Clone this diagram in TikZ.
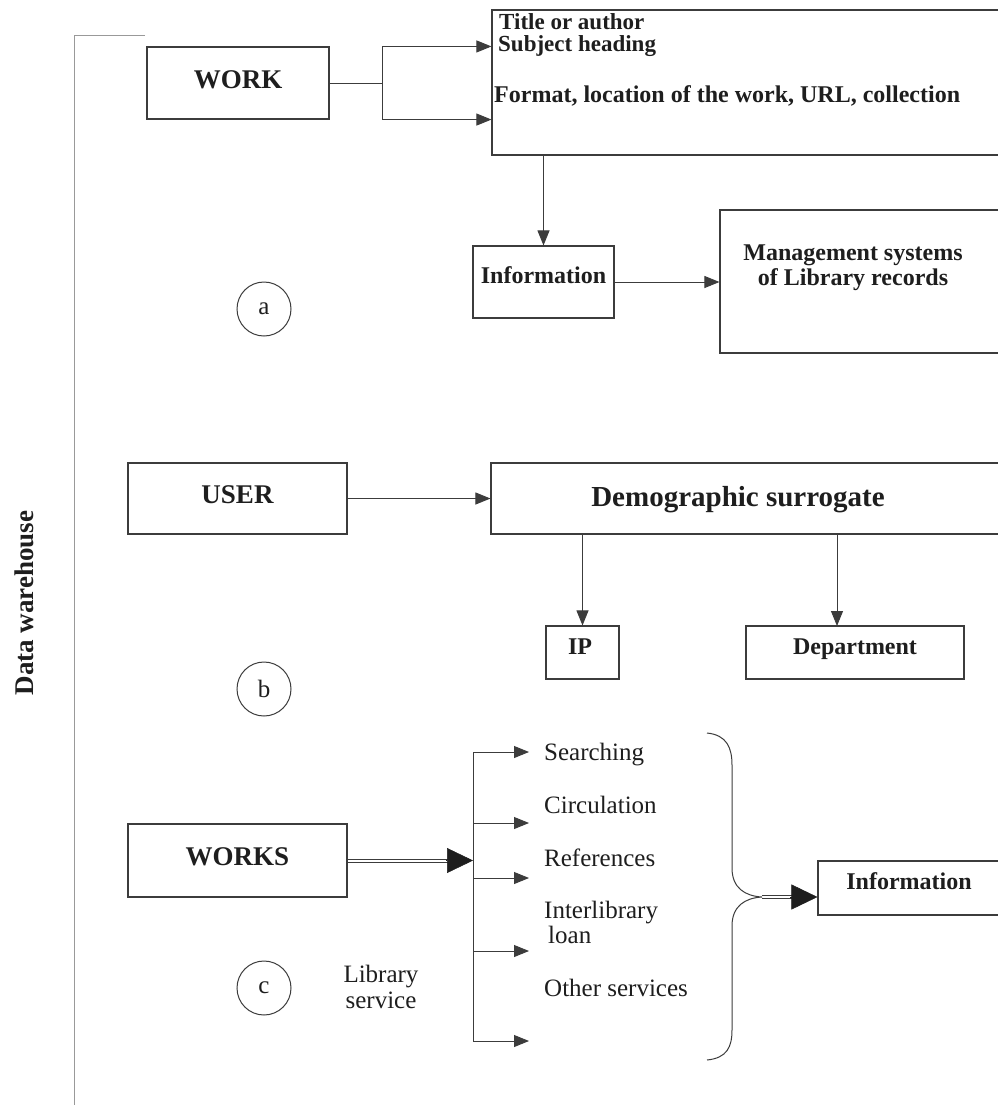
\documentclass[tikz,border=0pt]{standalone}
\usepackage{fontspec}
\setmainfont{Liberation Serif}
\usetikzlibrary{arrows.meta,calc}
\definecolor{ln}{HTML}{3C3C3C}
\definecolor{tx}{HTML}{1E1E1E}
\tikzset{
  box/.style={draw=ln, line width=1.1pt, inner sep=0pt, fill=none},
  arr/.style={draw=ln, line width=0.9pt, -{Triangle[length=15pt,width=12pt]}},
  ln1/.style={draw=ln, line width=0.9pt},
  thin2/.style={draw=ln, line width=0.8pt},
  bigtip/.style={draw=tx, line width=0.5pt, -{Triangle[length=26pt,width=25pt]}},
  lbl/.style={text=tx, inner sep=0pt, font=\fontsize{24}{26}\selectfont\bfseries},
  biglbl/.style={text=tx, inner sep=0pt, font=\fontsize{27}{29}\selectfont\bfseries},
  reg/.style={text=tx, inner sep=0pt, font=\fontsize{25}{27}\selectfont},
  circ/.style={draw=ln, line width=1pt, circle, minimum size=54pt, inner sep=0pt, text=tx, font=\fontsize{25}{27}\selectfont}
}
\begin{document}
\begin{tikzpicture}[x=1pt,y=-1pt]
\clip (0,0) rectangle (998,1112);
\fill[white] (0,0) rectangle (998,1112);

% left frame
\coordinate (ftl) at (74,35);
\coordinate (ftr) at (145,35);
\coordinate (fbl) at (74,1105);
\draw[draw=gray!80, line width=1pt] (ftr) -- (ftl) -- (fbl);
\node[text=tx, inner sep=0pt, rotate=90, anchor=base, font=\fontsize{27}{29}\selectfont\bfseries] (dw) at (34,603) {Data warehouse};

% ---------- (a) ----------
\node[box, minimum width=182pt, minimum height=72pt] (work) at (238,83) {};
\node[biglbl, anchor=base] (workt) at (238,88) {WORK};
\node[box, minimum width=518pt, minimum height=145pt] (attr) at (751,82.5) {};
\node[text=tx, inner sep=0pt, anchor=base west, font=\fontsize{23}{25}\selectfont\bfseries] (t1) at (499,29) {Title or author};
\node[text=tx, inner sep=0pt, anchor=base west, font=\fontsize{23}{25}\selectfont\bfseries] (t2) at (498,51) {Subject heading};
\node[lbl, anchor=base west] (t3) at (494,102) {Format, location of the work, URL, collection};
\coordinate (fork) at (382,83);
\draw[ln1] (work.east) -- (fork);
\draw[ln1] (fork |- work.north) -- (fork |- work.south);
\draw[arr] (fork |- work.north) -- (work.north -| attr.west);
\draw[arr] (fork |- work.south) -- (work.south -| attr.west);

\node[box, minimum width=141pt, minimum height=72pt] (info) at (543.5,282) {};
\node[lbl, anchor=base] (infot) at (543.5,283) {Information};
\node[box, minimum width=290pt, minimum height=143pt] (mgmt) at (865,281.5) {};
\node[lbl, anchor=base] (m1) at (853,260) {Management systems};
\node[lbl, anchor=base] (m2) at (853,285) {of Library records};
\draw[arr] (info.north |- attr.south) -- (info.north);
\draw[arr] (info.east) -- (info.east -| mgmt.west);
\node[circ] (ca) at (264,309) {a};

% ---------- (b) ----------
\node[box, minimum width=219pt, minimum height=71pt] (user) at (237.5,498.5) {};
\node[biglbl, anchor=base] (usert) at (237.5,503) {USER};
\node[box, minimum width=519pt, minimum height=71pt] (demo) at (750.5,498.5) {};
\node[text=tx, inner sep=0pt, anchor=base, font=\fontsize{29}{31}\selectfont\bfseries] (demot) at (738,506) {Demographic surrogate};
\draw[arr] (user.east) -- (demo.west);
\node[box, minimum width=73pt, minimum height=53pt] (ip) at (582.5,652.5) {};
\node[lbl, anchor=base] (ipt) at (580,654) {IP};
\node[box, minimum width=218pt, minimum height=53pt] (dept) at (855,652.5) {};
\node[lbl, anchor=base] (deptt) at (855,654) {Department};
\coordinate (dtop) at (837,626);
\draw[arr] (ip.north |- demo.south) -- (ip.north);
\draw[arr] (dtop |- demo.south) -- (dtop);
\node[circ] (cb) at (264,689) {b};

% ---------- (c) ----------
\node[box, minimum width=219pt, minimum height=73pt] (works) at (237.5,860.5) {};
\node[biglbl, anchor=base] (workst) at (237.5,865) {WORKS};
\coordinate (hub) at (473,860.5);
\coordinate (b1) at (473,752);
\coordinate (b2) at (473,823);
\coordinate (b3) at (473,878);
\coordinate (b4) at (473,951);
\coordinate (b5) at (473,1041);
\draw[ln1] (b1) -- (b5);
\foreach \k in {b1,b2,b3,b4,b5} {\draw[arr] (\k) -- ++(56,0);}
\draw[thin2] ([yshift=1.6pt]works.east) -- ([yshift=1.6pt,xshift=-24pt]hub);
\draw[thin2] ([yshift=-1.6pt]works.east) -- ([yshift=-1.6pt,xshift=-24pt]hub);
\draw[bigtip] ([xshift=-27pt]hub) -- (hub);

\node[reg, anchor=base west] (s1) at (544,760) {Searching};
\node[reg, anchor=base west] (s2) at (544,813) {Circulation};
\node[reg, anchor=base west] (s3) at (544,866) {References};
\node[reg, anchor=base west] (s4) at (544,918) {Interlibrary};
\node[reg, anchor=base west] (s5) at (548,943) {loan};
\node[reg, anchor=base west] (s6) at (544,996) {Other services};
\node[reg, anchor=base] (ls1) at (381,982) {Library};
\node[reg, anchor=base] (ls2) at (381,1008) {service};
\node[circ] (cc) at (264,988) {c};

% brace
\coordinate (btip) at (762,897);
\draw[ln, line width=1pt] (707,733) .. controls (727,735) and (732,748) .. (732,765)
  -- (732,868) .. controls (732,888) and (745,896) .. (btip)
  .. controls (745,898) and (732,906) .. (732,926)
  -- (732,1030) .. controls (732,1047) and (727,1058) .. (707,1060);
\node[box, minimum width=192pt, minimum height=54pt] (info2) at (914,888) {};
\node[lbl, anchor=base] (info2t) at (909,889) {Information};
\coordinate (itip) at (info2.west |- btip);
\draw[thin2] ([yshift=1.6pt]btip) -- ([yshift=1.6pt,xshift=-24pt]itip);
\draw[thin2] ([yshift=-1.6pt]btip) -- ([yshift=-1.6pt,xshift=-24pt]itip);
\draw[bigtip] ([xshift=-27pt]itip) -- (itip);
\end{tikzpicture}
\end{document}
